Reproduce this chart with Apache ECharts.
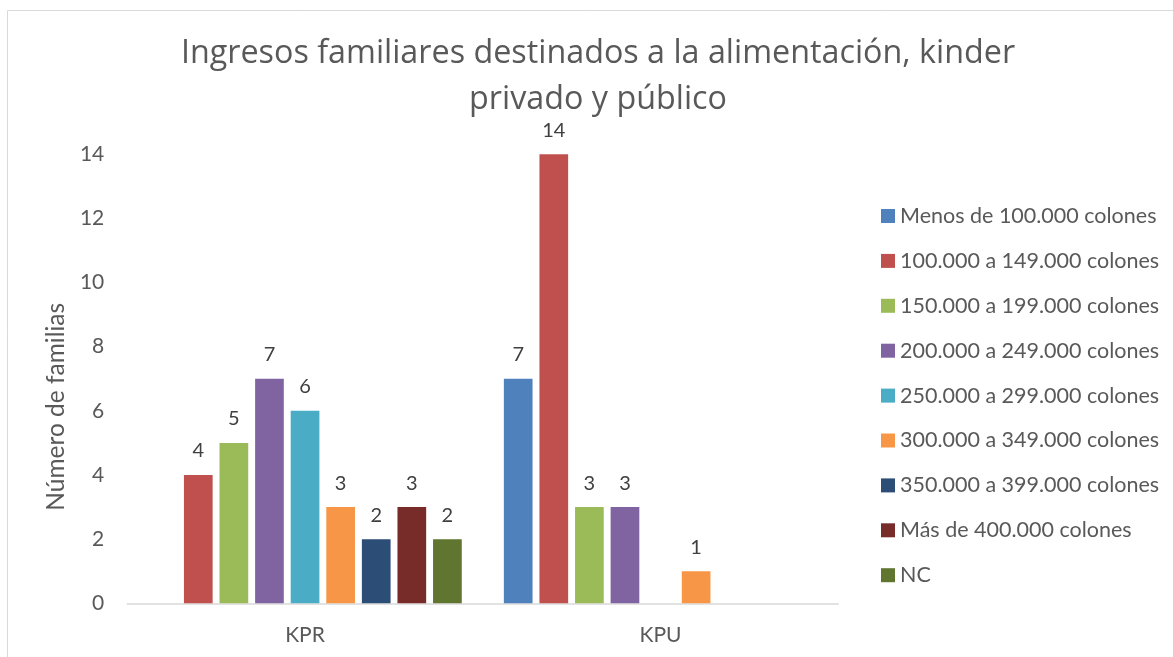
<!DOCTYPE html>
<html>
<head>
<meta charset="utf-8">
<script src="https://cdn.jsdelivr.net/npm/echarts@6/dist/echarts.min.js"></script>
<style>
html,body{margin:0;padding:0;background:#fff;}
#chart{width:1173px;height:657px;}
</style>
</head>
<body>
<div id="chart"></div>
<script>
const categories = ['KPR', 'KPU'];
const seriesNames = [
  'Menos de 100.000 colones',
  '100.000 a 149.000 colones',
  '150.000 a 199.000 colones',
  '200.000 a 249.000 colones',
  '250.000 a 299.000 colones',
  '300.000 a 349.000 colones',
  '350.000 a 399.000 colones',
  'Más de 400.000 colones',
  'NC'
];
const menos100 = [null, 7];
const de100a149 = [4, 14];
const de150a199 = [5, 3];
const de200a249 = [7, 3];
const de250a299 = [6, null];
const de300a349 = [3, 1];
const de350a399 = [2, null];
const mas400 = [3, null];
const nc = [2, null];
const seriesValues = [menos100, de100a149, de150a199, de200a249, de250a299, de300a349, de350a399, mas400, nc];
const colors = ['#4F81BD', '#C0504D', '#9BBB59', '#8064A2', '#4BACC6', '#F79646', '#2C4D75', '#772C2A', '#5F7530'];
const yTicks = [0, 2, 4, 6, 8, 10, 12, 14];

const FONT = 'Lato';
const TITLE_FONT = 'Open Sans';
const chart = echarts.init(document.getElementById('chart'));
chart.setOption({
  animation: false,
  textStyle: { fontFamily: FONT },
  graphic: [{
    type: 'rect',
    shape: { x: 7.5, y: 10.5, width: 2000, height: 2000 },
    style: { fill: 'none', stroke: '#d9d9d9', lineWidth: 1 },
    silent: true
  }],
  title: {
    text: 'Ingresos familiares destinados a la alimentación, kinder\nprivado y público',
    left: 598,
    top: 30,
    padding: 0,
    textAlign: 'center',
    textStyle: { fontFamily: TITLE_FONT, fontSize: 32.3, fontWeight: 'normal', color: '#595959', lineHeight: 46.7 }
  },
  legend: {
    orient: 'vertical',
    left: 881,
    top: 205,
    padding: 0,
    itemWidth: 14,
    itemHeight: 14,
    itemGap: 22.9,
    icon: 'rect',
    data: seriesNames,
    textStyle: { fontFamily: FONT, fontSize: 21.5, lineHeight: 22, color: '#595959' }
  },
  grid: { left: 127.3, right: 334.7, top: 154.3, bottom: 53.7, containLabel: false },
  xAxis: {
    type: 'category',
    data: categories,
    axisLine: { lineStyle: { color: '#d9d9d9', width: 1.5 } },
    axisTick: { show: false },
    axisLabel: { fontFamily: FONT, fontSize: 21, color: '#595959', margin: 21 }
  },
  yAxis: {
    type: 'value',
    min: yTicks[0],
    max: yTicks[yTicks.length - 1],
    interval: 2,
    name: 'Número de familias',
    nameLocation: 'middle',
    nameGap: 57,
    nameTextStyle: { fontFamily: FONT, fontSize: 24.5, color: '#595959', padding: [0, 56, 0, 0] },
    axisLine: { show: false },
    axisTick: { show: false },
    splitLine: { show: false },
    axisLabel: { fontFamily: FONT, fontSize: 21, color: '#595959', margin: 23 }
  },
  series: seriesNames.map((name, i) => ({
    name: name,
    type: 'bar',
    data: seriesValues[i],
    barWidth: 28.7,
    barGap: '24%',
    itemStyle: { color: colors[i] },
    label: { show: true, position: 'top', distance: 14, fontFamily: FONT, fontSize: 20, color: '#404040' }
  }))
});
</script>
</body>
</html>
